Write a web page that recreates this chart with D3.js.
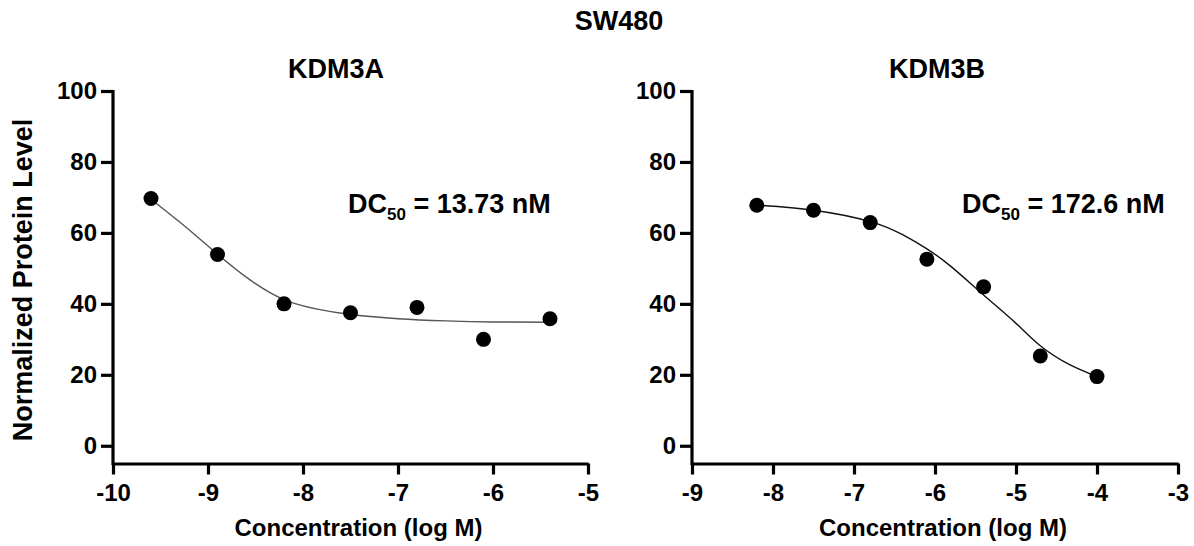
<!DOCTYPE html>
<html>
<head>
<meta charset="utf-8">
<script src="https://cdn.jsdelivr.net/npm/d3@7"></script>
<style>
    body { margin: 0; background: #fff; }
    text { font-family: "Liberation Sans", Arial, sans-serif; font-weight: bold; fill: #000; }
</style>
</head>
<body>
<script>
// Measured points, KDM3A
const concA = [-9.6, -8.9, -8.2, -7.5, -6.8, -6.1, -5.4];
const levelA = [69.7, 53.9, 40.0, 37.5, 39.0, 30.0, 35.8];
// Fitted curve, KDM3A
const fitConcA = [-9.6, -9.25, -8.9, -8.55, -8.2, -7.85, -7.5, -7.0, -6.5, -6.0, -5.4];
const fitLevelA = [69.5, 62.0, 54.0, 46.6, 41.2, 38.5, 37.0, 35.8, 35.2, 34.9, 34.8];

// Measured points, KDM3B
const concB = [-8.2, -7.5, -6.8, -6.1, -5.4, -4.7, -4.0];
const levelB = [67.8, 66.4, 62.9, 52.6, 44.8, 25.3, 19.5];
// Fitted curve, KDM3B
const fitConcB = [-8.2, -7.5, -6.8, -6.4, -6.1, -5.8, -5.4, -5.0, -4.7, -4.35, -4.0];
const fitLevelB = [67.8, 66.4, 63.2, 59.5, 55.5, 50.5, 42.5, 34.5, 28.2, 23.0, 19.5];

const yTicks = [0, 20, 40, 60, 80, 100];
const xTicksA = [-10, -9, -8, -7, -6, -5];
const xTicksB = [-9, -8, -7, -6, -5, -4, -3];

document.addEventListener("DOMContentLoaded", function(){
    const w = 1194;
    const h = 546;

    const svg = d3.select("body")
        .append("svg")
        .attr("width", w)
        .attr("height", h);

    // Overall title
    svg.append("text")
        .attr("x", 619)
        .attr("y", 30)
        .attr("text-anchor", "middle")
        .style("font-size", "27px")
        .text("SW480");

    // Shared y axis label
    svg.append("text")
        .attr("transform", "translate(32, 280) rotate(-90)")
        .attr("text-anchor", "middle")
        .style("font-size", "27px")
        .text("Normalized Protein Level");

    const panels = [
        {title: "KDM3A", conc: concA, level: levelA, fitX: fitConcA, fitY: fitLevelA,
         xTicks: xTicksA, left: 113, right: 588, titleX: 336, dc: "13.73", dcX: 348, curveColor: "#555"},
        {title: "KDM3B", conc: concB, level: levelB, fitX: fitConcB, fitY: fitLevelB,
         xTicks: xTicksB, left: 692, right: 1178, titleX: 937, dc: "172.6", dcX: 962, curveColor: "#111"}
    ];

    panels.forEach(function(p){
        // Define scales
        const xScale = d3.scaleLinear()
            .domain([p.xTicks[0], p.xTicks[p.xTicks.length - 1]])
            .range([p.left, p.right]);

        const yScale = d3.scaleLinear()
            .domain([-5, 100])
            .range([463.5, 91]);

        // plain hyphen for negative numbers, like the original
        const xAxis = d3.axisBottom(xScale)
            .tickValues(p.xTicks)
            .tickFormat(d => String(d))
            .tickSize(11)
            .tickSizeOuter(0)
            .tickPadding(9);

        const yAxis = d3.axisLeft(yScale)
            .tickValues(yTicks)
            .tickSize(12)
            .tickSizeOuter(0)
            .tickPadding(4);

        const gx = svg.append("g")
            .attr("transform", "translate(0, " + yScale(-5) + ")")
            .call(xAxis);

        const gy = svg.append("g")
            .attr("transform", "translate(" + p.left + ", 0)")
            .call(yAxis);

        [gx, gy].forEach(function(g){
            g.select(".domain").attr("stroke", "#000").attr("stroke-width", 3.2);
            g.selectAll(".tick line").attr("stroke", "#000").attr("stroke-width", 3.2);
            g.selectAll(".tick text")
                .attr("fill", "#000")
                .style("font-family", "'Liberation Sans', Arial, sans-serif")
                .style("font-weight", "bold")
                .style("font-size", "24px");
        });
        // stretch the y axis line down to the x axis
        gy.select(".domain").attr("d", "M0," + (yScale(100) - 1) + "V" + (yScale(-5) + 1.6));

        // Panel title
        svg.append("text")
            .attr("x", p.titleX)
            .attr("y", 78)
            .attr("text-anchor", "middle")
            .style("font-size", "27px")
            .text(p.title);

        // X axis label
        svg.append("text")
            .attr("x", (p.left + p.right) / 2 + 8)
            .attr("y", 536)
            .attr("text-anchor", "middle")
            .style("font-size", "24px")
            .text("Concentration (log M)");

        // Fitted curve
        const fit = p.fitX.map((d, i) => [d, p.fitY[i]]);
        svg.append("path")
            .datum(fit)
            .attr("fill", "none")
            .attr("stroke", p.curveColor)
            .attr("stroke-width", 1.4)
            .attr("d", d3.line()
                .x(d => xScale(d[0]))
                .y(d => yScale(d[1]))
                .curve(d3.curveNatural));

        // Data points
        svg.selectAll(null)
            .data(p.conc.map((d, i) => [d, p.level[i]]))
            .enter()
            .append("circle")
            .attr("cx", d => xScale(d[0]))
            .attr("cy", d => yScale(d[1]))
            .attr("r", 7.5)
            .attr("fill", "#000");

        // DC50 annotation
        const dc = svg.append("text")
            .attr("x", p.dcX)
            .attr("y", 213)
            .style("font-size", "27px");
        dc.append("tspan").text("DC");
        dc.append("tspan")
            .attr("dy", 7)
            .style("font-size", "17px")
            .text("50");
        dc.append("tspan")
            .attr("dy", -7)
            .text(" = " + p.dc + " nM");
    });
});
</script>
</body>
</html>
